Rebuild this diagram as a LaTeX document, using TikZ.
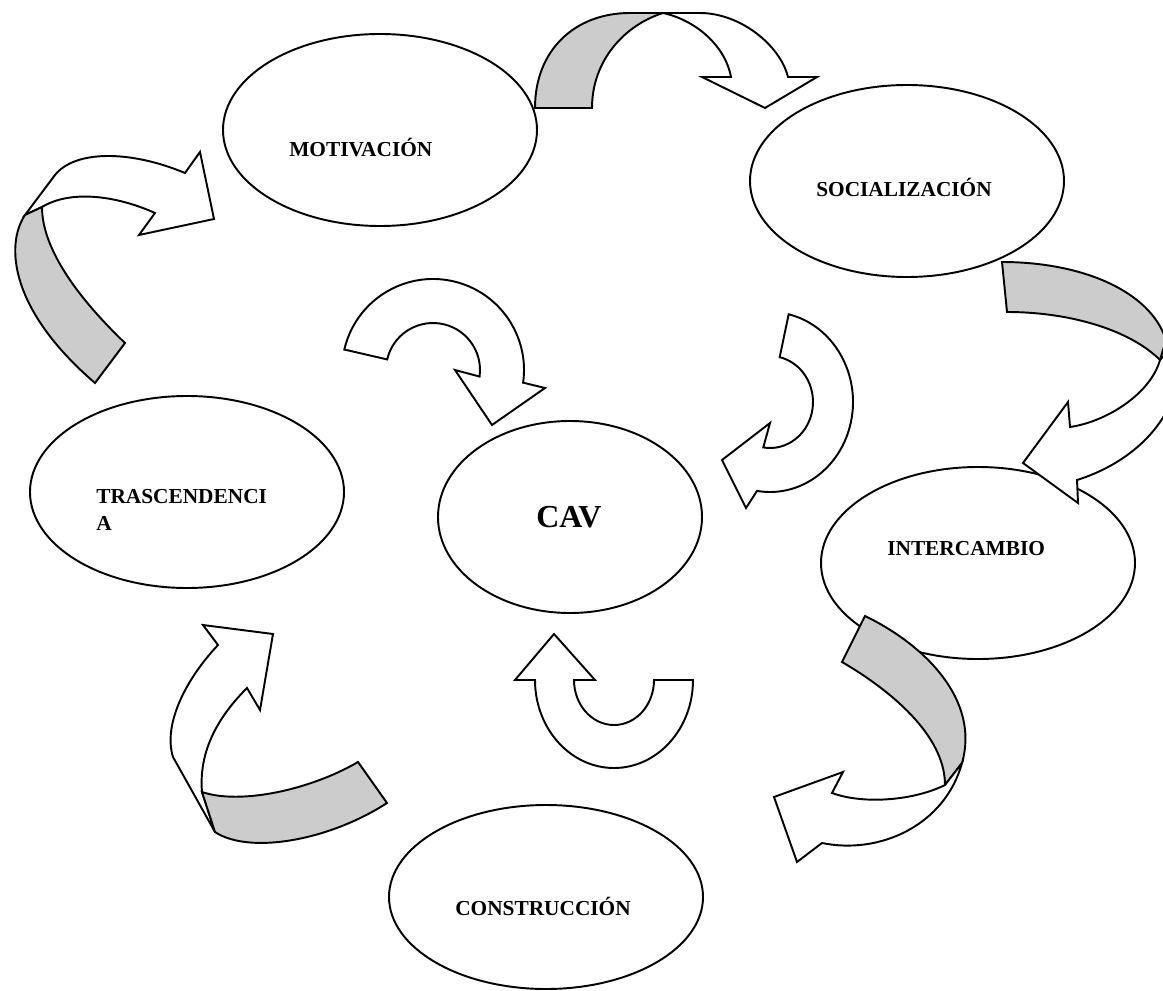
\documentclass[tikz,border=0pt]{standalone}
\usepackage{fontspec}
\setmainfont{Liberation Serif}
\usetikzlibrary{shapes.geometric, calc}
\definecolor{ribgray}{RGB}{204, 204, 204}

\begin{document}
\begin{tikzpicture}[
  x=0.75pt, y=-0.75pt,
  oval/.style={draw, ellipse, line width=1.45pt, fill=white, minimum width=235.5pt, minimum height=144pt, inner sep=0pt},
  lbl/.style={anchor=base west, font=\bfseries\fontsize{16}{19}\selectfont, inner sep=0pt},
  band/.style={draw, fill=white, line width=1.45pt, line join=miter},
  back/.style={band, fill=ribgray}
]
  \path[use as bounding box, clip] (0,0) rectangle (1163,991);

  \node[oval] (motiv) at (380,130) {};
  \node[oval] (social) at (907,181) {};
  \node[oval] (trasc) at (187,492) {};
  \node[oval, minimum width=198pt] (cav) at (570,517) {};
  \node[oval] (inter) at (978,563) {};
  \node[oval, minimum height=138pt] (constr) at (546,897) {};

  \node[lbl] (motivtxt) at ($(motiv.west)+(67,27)$) {MOTIVACIÓN};
  \node[lbl] (socialtxt) at ($(social.west)+(67,16)$) {SOCIALIZACIÓN};
  \node[lbl] (trasctxt) at ($(trasc.west)+(67,11)$) {TRASCENDENCI};
  \node[lbl] (trasctxtb) at ($(trasctxt.base west)+(0,27)$) {A};
  \node[lbl, font=\bfseries\fontsize{24}{28}\selectfont] (cavtxt) at ($(cav.west)+(99,10)$) {CAV};
  \node[lbl] (intertxt) at ($(inter.west)+(67,-8)$) {INTERCAMBIO};
  \node[lbl] (constrtxt) at ($(constr.west)+(67,18)$) {CONSTRUCCIÓN};

  \draw[back] (535,108) .. controls (535,50) and (575,13) .. (630,13) -- (663,13) .. controls (625,25) and (592,60) .. (592,108) -- cycle;
  \draw[band] (663,13) -- (700,13) .. controls (740,13) and (780,45) .. (788,77) -- (817,77) -- (765,108) -- (702,77) -- (731,77) .. controls (725,45) and (695,20) .. (663,13) -- cycle;

  \draw[back] (1002,262) .. controls (1080,262) and (1150,290) .. (1166,340) -- (1160,360) .. controls (1130,330) and (1070,312) .. (1007,312) -- cycle;
  \draw[band] (1160,360) .. controls (1150,395) and (1105,422) .. (1070,427) -- (1068,402) -- (1023,463) -- (1078,503) -- (1077,480) .. controls (1125,465) and (1168,430) .. (1178,380) -- (1178,340) -- cycle;

  \draw[back] (865,616) .. controls (925,645) and (980,700) .. (962,763) -- (945,785) .. controls (945,735) and (890,690) .. (842,662) -- cycle;
  \draw[band] (945,785) .. controls (915,800) and (865,805) .. (832,793) -- (843,772) -- (774,797) -- (797,862) -- (822,843) .. controls (880,855) and (945,825) .. (962,763) -- cycle;

  \draw[band] (215,832) -- (173,757) .. controls (163,725) and (185,680) .. (218,645) -- (203,625) -- (273,634) -- (260,710) -- (247,688) .. controls (225,710) and (198,745) .. (202,792) -- cycle;
  \draw[back] (202,792) .. controls (240,805) and (310,790) .. (358,762) -- (387,803) .. controls (330,840) and (250,855) .. (215,832) -- cycle;

  \draw[band] (25,215) -- (55,175) .. controls (75,150) and (130,150) .. (185,173) -- (200,152) -- (214,219) -- (139,235) -- (155,213) .. controls (115,195) and (70,190) .. (42,207) -- cycle;
  \draw[back] (25,215) .. controls (5,245) and (10,310) .. (95,383) -- (125,343) .. controls (80,300) and (42,250) .. (42,207) -- cycle;

  \coordinate (fc) at (433,370);
  \draw[band] ($(fc)+(193:91)$) arc[start angle=193, end angle=368, radius=91] -- (545,388) -- (492,425) -- (455,370) -- ($(fc)+(368:47)$) arc[start angle=368, end angle=193, radius=47] -- cycle;

  \coordinate (gc) at (770,402);
  \draw[band] ($(gc)+(-77:83 and 90)$) arc[start angle=-77, end angle=99, x radius=83, y radius=90] -- (746,508) -- (722,460) -- (770,423) -- ($(gc)+(99:43 and 46)$) arc[start angle=99, end angle=-77, x radius=43, y radius=46] -- cycle;

  \coordinate (hc) at (614,680);
  \draw[band] ($(hc)+(79,0)$) arc[start angle=0, end angle=180, x radius=79, y radius=88] -- (515,680) -- (554,634) -- (595,680) -- ($(hc)+(-40,0)$) arc[start angle=180, end angle=0, x radius=40, y radius=45] -- cycle;
\end{tikzpicture}
\end{document}
